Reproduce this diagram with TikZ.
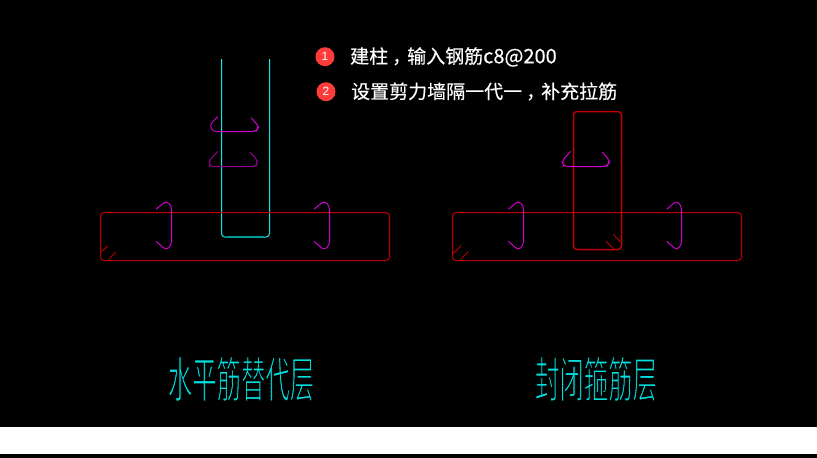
\documentclass[tikz,border=0pt]{standalone}
\usepackage{fontspec}
\setmainfont{Liberation Sans}
\newfontfamily\cjk{Noto Sans CJK SC}
\newfontfamily\cjkb{Noto Sans CJK SC}[FakeBold=0.25]
\definecolor{rebar}{HTML}{C00000}
\definecolor{hookbright}{HTML}{D000D0}
\definecolor{hookdark}{HTML}{900090}
\definecolor{colcyan}{HTML}{10E8E8}
\definecolor{colteal}{HTML}{009A9A}
\definecolor{titlecyan}{HTML}{00E0E0}
\definecolor{badge}{HTML}{FF3B3B}
\newcommand{\thinglyph}[1]{\special{pdf:code 2 Tr 0.7 w 0 0 0 RG}#1\special{pdf:code 0 Tr}}
\newcommand{\midcomma}{\kern4pt，\kern-4pt}
\tikzset{
  wire/.style={line width=1pt,rounded corners=3.5pt},
  stirrup/.style={wire,draw=rebar},
  stirrupwide/.style={wire,draw=rebar,line width=1.5pt},
  hookb/.style={wire,draw=hookbright},
  hookd/.style={wire,draw=hookdark},
  cadcol/.style={wire,draw=colcyan},
  tick/.style={line width=.9pt,draw=rebar},
  badgenode/.style={circle,fill=badge,minimum size=19pt,inner sep=0pt,text=white,font=\fontsize{12}{12}\selectfont},
  note/.style={anchor=west,inner sep=0pt,text=white,font=\cjkb\fontsize{19}{21}\selectfont},
  title/.style={inner sep=0pt,text=titlecyan,font=\cjk\fontsize{24.4}{26}\selectfont,yscale=2.0,transform shape}
}
\begin{document}
\begin{tikzpicture}[x=1pt,y=-1pt]
\useasboundingbox (0,0) rectangle (817,458);
\fill[black] (0,0) rectangle (817,458);
\fill[white] (0,427) rectangle (817,454);
% left
\draw[cadcol] (221.5,59) -- (221.5,237) -- (269.5,237) -- (269.5,59);
\draw[draw=colteal,line width=1.2pt] (227,237) -- (264,237);
\draw[stirrup] (100.5,212.5) rectangle (389.5,260.5);
\draw[tick] (101,252) -- (107.7,246);
\draw[tick] (109,259) -- (115.7,252);
\draw[hookb] (217.7,116.7) -- (209.6,125) -- (212.7,131.5) -- (256,131.5) -- (259,126.5) -- (251,117.7);
\draw[hookd] (218,151.3) -- (209.4,160) -- (209.6,166.5) -- (256.5,166.5) -- (257.5,160) -- (250,152.3);
\draw[hookb] (156,209.3) -- (166.3,200.8) -- (171.5,206) -- (171.5,245) -- (166.3,250.2) -- (156,241.3);
\draw[hookb] (314,209.3) -- (324.3,200.8) -- (329.5,206) -- (329.5,245) -- (324.3,250.2) -- (314,241.3);
% right
\draw[stirrup] (452.5,212.5) rectangle (741.5,260.5);
\draw[stirrupwide] (573.5,111.5) rectangle (621.5,249.5);
\draw[tick] (453.3,253.3) -- (461,245.7);
\draw[tick] (460.7,259.3) -- (468.3,251.7);
\draw[tick] (613.3,234.3) -- (620,241.5);
\draw[tick] (606,241.3) -- (614,249);
\draw[hookb] (570.7,151.3) -- (561.8,161) -- (564,166.5) -- (607,166.5) -- (610,161) -- (602.3,152);
\draw[hookb] (508.4,209.3) -- (518.5,200.8) -- (523.5,206) -- (523.5,245) -- (518.5,250.2) -- (508.4,241.3);
\draw[hookb] (666.7,209.3) -- (676.8,200.8) -- (681.5,206) -- (681.5,245) -- (676.8,250.2) -- (666.7,241.3);
% notes
\node[badgenode] (b1) at (325,56.7) {1};
\node[badgenode] (b2) at (326,91.7) {2};
\node[note] (n1) at (350,57) {建柱\midcomma 输入钢筋{\fontsize{20}{21}\selectfont c8@200}};
\node[note] (n2) at (351,91.5) {设置剪力墙隔一代一\midcomma 补充拉筋};
% titles
\node[title] (t1) at (241,379) {\thinglyph{水平筋替代层}};
\node[title] (t2) at (596,379) {\thinglyph{封闭箍筋层}};
\end{tikzpicture}
\end{document}
